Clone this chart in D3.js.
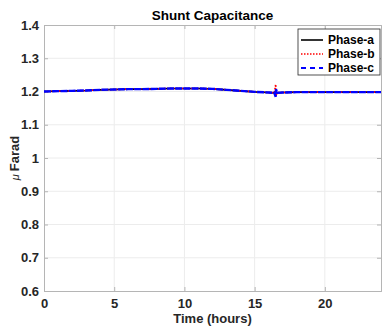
<!DOCTYPE html>
<html>
<head>
<meta charset="utf-8">
<script src="https://cdn.jsdelivr.net/npm/d3@7"></script>
<style>
  html, body { margin: 0; padding: 0; background: #fff; }
  svg { display: block; }
</style>
</head>
<body>
<div id="chart"></div>
<script>
const hours = [0, 1, 2, 3, 4, 5, 6, 7, 8, 9, 10, 11, 12, 13, 14, 15, 16, 16.4, 16.5, 16.52, 16.6, 17, 18, 19, 20, 21, 22, 23, 24];
const phaseA = [1.200, 1.201, 1.202, 1.203, 1.205, 1.206, 1.207, 1.207, 1.208, 1.209, 1.209, 1.209, 1.208, 1.205, 1.202, 1.199, 1.197, 1.196, 1.193, 1.197, 1.196, 1.197, 1.198, 1.198, 1.198, 1.198, 1.198, 1.198, 1.198];
const phaseB = [1.200, 1.201, 1.202, 1.203, 1.205, 1.206, 1.207, 1.207, 1.208, 1.209, 1.209, 1.209, 1.208, 1.205, 1.202, 1.199, 1.197, 1.196, 1.221, 1.186, 1.197, 1.197, 1.198, 1.198, 1.198, 1.198, 1.198, 1.198, 1.198];
const phaseC = [1.200, 1.201, 1.202, 1.203, 1.205, 1.206, 1.207, 1.207, 1.208, 1.209, 1.209, 1.209, 1.208, 1.205, 1.202, 1.199, 1.197, 1.196, 1.184, 1.207, 1.196, 1.197, 1.198, 1.198, 1.198, 1.198, 1.198, 1.198, 1.198];
const xTicks = [0, 5, 10, 15, 20];
const yTicks = [0.6, 0.7, 0.8, 0.9, 1, 1.1, 1.2, 1.3, 1.4];
const seriesNames = ['Phase-a', 'Phase-b', 'Phase-c'];

const width = 382, height = 328;
const margin = { left: 44, right: 1, top: 25, bottom: 37 };
const iw = width - margin.left - margin.right;
const ih = height - margin.top - margin.bottom;

const svg = d3.select('#chart').append('svg')
    .attr('width', width)
    .attr('height', height)
    .style('font-family', '"Liberation Sans", Arial, sans-serif');

const x = d3.scaleLinear().domain([0, 24]).range([0, iw]);
const y = d3.scaleLinear().domain([0.6, 1.4]).range([ih, 0]);

const g = svg.append('g').attr('transform', `translate(${margin.left},${margin.top})`);

// grid
g.selectAll('.vgrid').data(xTicks.slice(1)).enter().append('line')
    .attr('x1', d => x(d)).attr('x2', d => x(d))
    .attr('y1', 0).attr('y2', ih)
    .attr('stroke', '#ececec').attr('stroke-width', 1);
g.selectAll('.hgrid').data(yTicks.slice(1, -1)).enter().append('line')
    .attr('x1', 0).attr('x2', iw)
    .attr('y1', d => y(d)).attr('y2', d => y(d))
    .attr('stroke', '#ececec').attr('stroke-width', 1);

// axes
const axisColor = '#b5b5b5';
const xAxis = g.append('g').attr('transform', `translate(0,${ih})`)
    .call(d3.axisBottom(x).tickValues(xTicks).tickSize(-4).tickPadding(8).tickFormat(d3.format('d')));
const yAxis = g.append('g')
    .call(d3.axisLeft(y).tickValues(yTicks).tickSize(-4).tickPadding(5).tickFormat(d => d === 1 ? '1' : d3.format('.1f')(d)));
g.append('g').attr('transform', `translate(${iw},0)`)
    .call(d3.axisRight(y).tickValues(yTicks).tickSize(-4).tickFormat(''));
g.append('g')
    .call(d3.axisTop(x).tickValues(xTicks).tickSize(-4).tickFormat(''));
g.selectAll('.domain').attr('stroke', axisColor);
g.selectAll('.tick line').attr('stroke', axisColor);
[xAxis, yAxis].forEach(a => a.selectAll('text')
    .attr('fill', '#262626')
    .style('font-size', '13px')
    .style('font-weight', 'bold'));

// lines
const rows = hours.map((h, i) => ({ h, v: [phaseA[i], phaseB[i], phaseC[i]] }));
const styles = [
    { color: '#000000', dash: null, w: 1.6 },
    { color: '#ff0000', dash: '1.5,1.5', w: 1.6 },
    { color: '#0000ff', dash: '7,1.2', w: 2.4 }
];
styles.forEach((s, k) => {
    const line = d3.line().x(d => x(d.h)).y(d => y(d.v[k]));
    g.append('path')
        .datum(rows)
        .attr('d', line)
        .attr('fill', 'none')
        .attr('stroke', s.color)
        .attr('stroke-width', s.w)
        .attr('stroke-dasharray', s.dash);
});

// title
svg.append('text')
    .attr('x', margin.left + iw / 2).attr('y', 20)
    .attr('text-anchor', 'middle')
    .style('font-size', '13.5px').style('font-weight', 'bold')
    .attr('fill', '#000')
    .text('Shunt Capacitance');

// x label
svg.append('text')
    .attr('x', margin.left + iw / 2).attr('y', 323)
    .attr('text-anchor', 'middle')
    .style('font-size', '13px').style('font-weight', 'bold')
    .attr('fill', '#262626')
    .text('Time (hours)');

// y label
const yl = svg.append('text')
    .attr('transform', `translate(19,${margin.top + ih / 2}) rotate(-90)`)
    .attr('text-anchor', 'middle')
    .style('font-weight', 'bold')
    .attr('fill', '#262626');
yl.append('tspan').style('font-size', '11px').style('font-style', 'italic').style('font-weight', 'normal').text('μ ');
yl.append('tspan').style('font-size', '13px').text('Farad');

// legend
const lg = svg.append('g').attr('transform', 'translate(298,29)');
lg.append('rect')
    .attr('width', 82).attr('height', 46)
    .attr('fill', '#fff').attr('stroke', '#262626').attr('stroke-width', 0.8);
seriesNames.forEach((name, k) => {
    const ly = 11 + k * 14;
    lg.append('line')
        .attr('x1', 3).attr('x2', 25).attr('y1', ly).attr('y2', ly)
        .attr('stroke', styles[k].color)
        .attr('stroke-width', k === 2 ? 2 : 1.6)
        .attr('stroke-dasharray', k === 2 ? '5,4' : styles[k].dash);
    lg.append('text')
        .attr('x', 30).attr('y', ly + 4)
        .style('font-size', '12px').style('font-weight', 'bold')
        .attr('fill', '#000')
        .text(name);
});
</script>
</body>
</html>
